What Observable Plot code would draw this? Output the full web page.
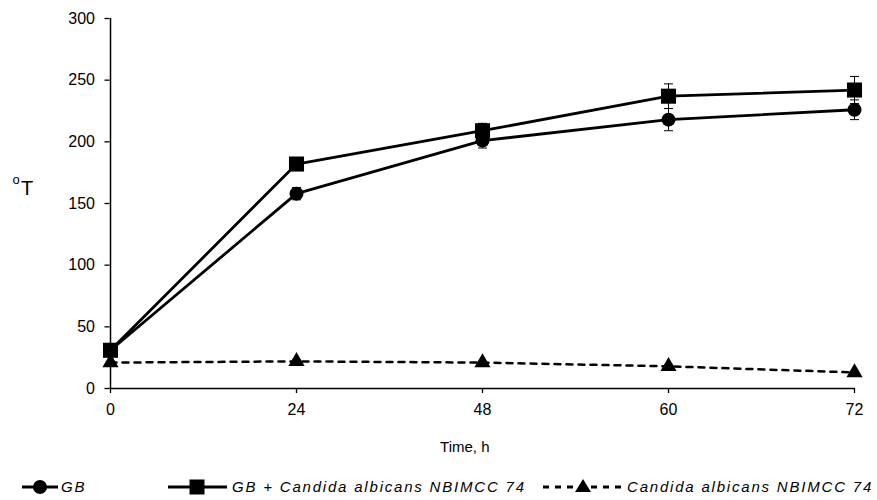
<!DOCTYPE html>
<html>
<head>
<meta charset="utf-8">
<script src="https://cdn.jsdelivr.net/npm/d3@7"></script>
<script src="https://cdn.jsdelivr.net/npm/@observablehq/plot@0.6"></script>
<style>
  html, body { margin: 0; padding: 0; background: #fff; }
  #wrap { position: relative; width: 877px; height: 500px; font-family: "Liberation Sans", Arial, sans-serif; }
  #legend { position: absolute; left: 0; top: 460px; width: 877px; height: 40px; }
  .item { position: absolute; top: 0; height: 40px; }
  .item svg { position: absolute; top: 0; }
  .lab { position: absolute; top: 18px; font-style: italic; font-size: 15px; letter-spacing: 1.8px; white-space: nowrap; color: #000; line-height: 18px; }
</style>
</head>
<body>
<div id="wrap"></div>
<script>
const times = ["0", "24", "48", "60", "72"];
const gbValues = [31, 158, 201, 218, 226];
const gbErrors = [2, 5, 6, 9, 8];
const gbcValues = [31, 182, 209, 237, 242];
const gbcErrors = [2, 5, 6, 10, 11];
const caValues = [21, 22, 21, 18, 13];
const caErrors = [1, 1, 1, 1, 1];
const yTicks = [0, 50, 100, 150, 200, 250, 300];
const seriesNames = ["GB", "GB + Candida albicans NBIMCC 74", "Candida albicans NBIMCC 74"];

function rows(name, vals, errs) {
  return times.map((t, i) => ({series: name, time: t, value: vals[i], err: errs[i]}));
}
const gb = rows(seriesNames[0], gbValues, gbErrors);
const gbc = rows(seriesNames[1], gbcValues, gbcErrors);
const ca = rows(seriesNames[2], caValues, caErrors);
const all = [...gb, ...gbc, ...ca];

const cap = {draw(ctx) { ctx.moveTo(-4.5, 0); ctx.lineTo(4.5, 0); }};

const font = "Liberation Sans, Arial, sans-serif";

const chart = Plot.plot({
  width: 877,
  height: 460,
  marginLeft: 109.5,
  marginRight: 22,
  marginTop: 18,
  marginBottom: 72,
  style: {fontFamily: font, background: "#fff", color: "#000", overflow: "visible"},
  x: {type: "point", domain: times, padding: 0},
  y: {domain: [0, 300]},
  marks: [
    Plot.axisY({ticks: yTicks, tickSize: 5, tickPadding: 10, fontSize: 16, label: null, stroke: "#000", strokeWidth: 1.3, strokeOpacity: 1}),
    Plot.axisX({tickSize: 5, tickPadding: 10, fontSize: 16, label: null, stroke: "#000", strokeWidth: 1.3, strokeOpacity: 1}),
    Plot.ruleX([times[0]], {stroke: "#000", strokeWidth: 1.5}),
    Plot.ruleY([0], {stroke: "#000", strokeWidth: 1.5}),
    // error bars
    Plot.ruleX(all, {x: "time", y1: d => d.value - d.err, y2: d => d.value + d.err, stroke: "#000", strokeWidth: 1}),
    Plot.dot(all, {x: "time", y: d => d.value + d.err, symbol: cap, stroke: "#000", strokeWidth: 1, r: 4}),
    Plot.dot(all, {x: "time", y: d => d.value - d.err, symbol: cap, stroke: "#000", strokeWidth: 1, r: 4}),
    // lines
    Plot.line(ca, {x: "time", y: "value", stroke: "#000", strokeWidth: 2.5, strokeDasharray: "6,6"}),
    Plot.line(gb, {x: "time", y: "value", stroke: "#000", strokeWidth: 2.8}),
    Plot.line(gbc, {x: "time", y: "value", stroke: "#000", strokeWidth: 2.8}),
    // markers
    Plot.dot(ca, {x: "time", y: "value", symbol: "triangle", fill: "#000", r: 6}),
    Plot.dot(gb, {x: "time", y: "value", symbol: "circle", fill: "#000", r: 7}),
    Plot.dot(gbc, {x: "time", y: "value", symbol: "square", fill: "#000", r: 8.5}),
    // axis titles
    Plot.text(["T"], {frameAnchor: "left", dx: -83, dy: -15, fontSize: 20, textAnchor: "middle"}),
    Plot.text(["o"], {frameAnchor: "left", dx: -94, dy: -24, fontSize: 13, textAnchor: "middle"}),
    Plot.text(["Time, h"], {frameAnchor: "bottom", dx: -18, dy: 63, fontSize: 15, textAnchor: "middle", letterSpacing: "1px"})
  ]
});

const wrap = document.getElementById("wrap");
wrap.appendChild(chart);

const legend = document.createElement("div");
legend.id = "legend";
legend.innerHTML = `
  <div class="item" style="left:22px;">
    <svg width="40" height="40"><line x1="0" y1="27" x2="36" y2="27" stroke="#000" stroke-width="3"/><circle cx="18" cy="27" r="7" fill="#000"/></svg>
    <span class="lab" style="left:39px;">${seriesNames[0]}</span>
  </div>
  <div class="item" style="left:168px;">
    <svg width="62" height="40"><line x1="0" y1="27" x2="59" y2="27" stroke="#000" stroke-width="3"/><rect x="21.5" y="19.5" width="15" height="15" fill="#000"/></svg>
    <span class="lab" style="left:64px;">${seriesNames[1]}</span>
  </div>
  <div class="item" style="left:543px;">
    <svg width="82" height="40"><line x1="0" y1="27" x2="80" y2="27" stroke="#000" stroke-width="3" stroke-dasharray="6,6"/><path d="M40,19 L48,32 L32,32 Z" fill="#000"/></svg>
    <span class="lab" style="left:84px;">${seriesNames[2]}</span>
  </div>`;
wrap.appendChild(legend);
</script>
</body>
</html>
